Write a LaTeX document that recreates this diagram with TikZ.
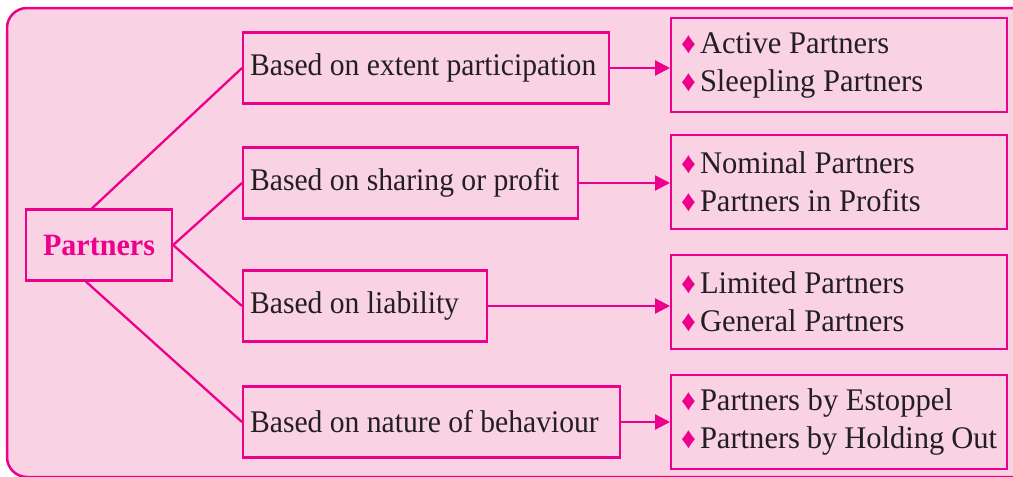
\documentclass[tikz,border=0pt]{standalone}
\usepackage{fontspec}
\setmainfont{Liberation Serif}[FakeStretch=0.97]
\newfontfamily\midfont{Liberation Serif}[FakeStretch=0.94]
\definecolor{pk}{RGB}{249, 210, 228}
\definecolor{mg}{RGB}{236, 0, 140}
\definecolor{tx}{RGB}{35, 31, 32}
\usetikzlibrary{positioning,arrows.meta}
\newcommand{\dia}{{\color{mg}\fontsize{30}{30}\selectfont ♦}\hspace{4pt}}

\begin{document}
\begin{tikzpicture}[x=1pt,y=-1pt,font=\fontsize{31.5}{38}\selectfont,
  midbox/.style={rectangle, draw=mg, line width=2.3pt, minimum height=71pt, inner xsep=7pt, align=flush left, anchor=west, text=tx, font=\fontsize{31.5}{38}\midfont},
  listbox/.style={rectangle, draw=mg, line width=2.3pt, minimum height=94pt, inner xsep=10pt, text width=316pt, align=flush left, anchor=west, text=tx},
  link/.style={draw=mg, line width=2.3pt}]
\useasboundingbox (0,0) rectangle (1013,477);
\draw[draw=mg, fill=pk, line width=2.5pt, rounded corners=20pt] (7,8) rectangle (1040,477);

\node[rectangle, draw=mg, line width=2.3pt, minimum width=146pt, minimum height=71pt, inner sep=0, text=mg, font=\fontsize{31}{38}\selectfont\bfseries] (P) at (99,245) {Partners};

\node[midbox, text width=352pt] (B1) at (242,68) {Based on extent participation};
\node[midbox, text width=321pt] (B2) at (242,183) {Based on sharing or profit};
\node[midbox, text width=230pt] (B3) at (242,306) {Based on liability};
\node[midbox, text width=363pt] (B4) at (242,422) {Based on nature of behaviour};

\node[listbox] (R1) at (670,65) {\dia Active Partners\\ \dia Sleepling Partners};
\node[listbox] (R2) at (670,182) {\dia Nominal Partners\\ \dia Partners in Profits};
\node[listbox] (R3) at (670,302) {\dia Limited Partners\\ \dia General Partners};
\node[listbox] (R4) at (670,422) {\dia Partners by Estoppel\\ \dia Partners by Holding Out};

\draw[link] ([xshift=-7pt]P.north) -- (B1.west);
\draw[link] (P.east) -- (B2.west);
\draw[link] (P.east) -- (B3.west);
\draw[link] ([xshift=-13pt]P.south) -- (B4.west);

\draw[link,-{Triangle[length=15pt,width=15pt]}] (B1.east) -- (B1.east -| R1.west);
\draw[link,-{Triangle[length=15pt,width=15pt]}] (B2.east) -- (B2.east -| R2.west);
\draw[link,-{Triangle[length=15pt,width=15pt]}] (B3.east) -- (B3.east -| R3.west);
\draw[link,-{Triangle[length=15pt,width=15pt]}] (B4.east) -- (B4.east -| R4.west);

\end{tikzpicture}
\end{document}
